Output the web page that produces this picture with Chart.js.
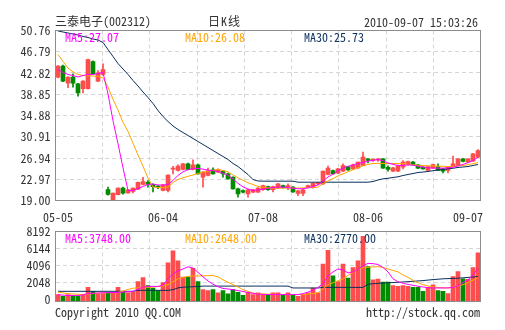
<!DOCTYPE html>
<html>
<head>
<meta charset="utf-8">
<script src="https://cdn.jsdelivr.net/npm/chart.js@4.4.0/dist/chart.umd.min.js"></script>
<style>
  body { margin: 0; background: #fff; }
  #wrap { position: relative; width: 505px; height: 330px; overflow: hidden; }
  canvas { position: absolute; left: 0; }
  .t {
    position: absolute; white-space: pre; color: #333;
    font: 12px/12px "Noto Sans Mono CJK SC", "DejaVu Sans Mono", monospace;
  }
</style>
</head>
<body>
<div id="wrap">
  <canvas id="kline" width="505" height="240" style="top:0"></canvas>
  <canvas id="vol" width="505" height="110" style="top:210px"></canvas>

  <div class="t" style="left:55px;top:15px">三泰电子(002312)</div>
  <div class="t" style="left:208px;top:15px;letter-spacing:1px">日K线</div>
  <div class="t" style="right:27px;top:16px">2010-09-07 15:03:26</div>

  <div class="t" style="left:65px;top:31px;color:#ff00ff">MA5:27.07</div>
  <div class="t" style="left:185px;top:31px;color:#ffa500">MA10:26.08</div>
  <div class="t" style="left:304px;top:31px;color:#0a2f5c">MA30:25.73</div>

  <div class="t" style="left:65px;top:232px;color:#ff00ff">MA5:3748.00</div>
  <div class="t" style="left:185px;top:232px;color:#ffa500">MA10:2648.00</div>
  <div class="t" style="left:304px;top:232px;color:#0a2f5c">MA30:2770.00</div>

  <div class="t" style="left:55px;top:306px">Copyright 2010 QQ.COM</div>
  <div class="t" style="right:25px;top:306px">http://stock.qq.com</div>
</div>

<script>
// 三泰电子 (002312) daily K line, 2010-05-05 .. 2010-09-07

const open = [42.04, 44.09, 40.91, 42.04, 40.80, 39.87, 39.87, 44.97, 41.29, 42.54,
  21.06, 19.05, 20.10, 21.30, 20.40, 20.68, 21.10, 21.99, 22.42, 22.00,
  21.70, 20.87, 20.87, 24.85, 24.60, 24.79, 25.86, 24.79, 25.67, 23.36,
  23.67, 24.73, 24.29, 24.48, 23.98, 23.36, 21.18, 20.87, 20.25, 20.55,
  20.55, 21.00, 21.60, 21.00, 21.30, 21.80, 21.60, 21.50, 20.30, 20.30,
  21.50, 21.40, 22.10, 22.12, 23.86, 24.61, 24.11, 24.48, 25.35, 24.92,
  25.10, 25.54, 26.79, 26.50, 26.60, 26.79, 25.20, 24.48, 24.48, 25.23,
  25.73, 26.16, 25.66, 25.23, 24.61, 25.10, 25.35, 24.92, 24.61, 25.35,
  25.54, 26.79, 26.16, 26.35, 27.10];

const high = [44.20, 44.30, 42.10, 42.67, 40.90, 41.40, 45.40, 45.10, 43.29, 44.54,
  21.49, 20.40, 21.35, 21.50, 21.10, 21.35, 22.45, 23.35, 22.70, 22.10,
  21.80, 22.00, 23.80, 25.40, 25.67, 25.95, 26.00, 26.60, 25.80, 24.40,
  25.04, 25.10, 24.90, 24.60, 24.10, 23.40, 21.30, 21.00, 21.10, 21.10,
  21.40, 21.90, 21.70, 21.70, 22.20, 21.90, 22.10, 21.60, 20.90, 21.10,
  21.90, 22.30, 22.40, 24.50, 25.42, 24.70, 25.00, 25.85, 25.40, 25.80,
  26.20, 28.03, 26.85, 26.80, 26.90, 26.85, 25.50, 25.20, 25.60, 26.47,
  26.35, 26.30, 25.70, 25.30, 25.40, 25.80, 25.85, 25.00, 25.30, 27.28,
  26.85, 26.85, 26.85, 27.80, 28.50];

const low = [41.90, 41.20, 40.06, 40.17, 38.49, 39.12, 39.80, 42.60, 41.20, 42.40,
  20.00, 19.00, 20.05, 20.20, 20.30, 20.40, 21.00, 21.90, 21.50, 20.60,
  21.20, 20.80, 20.60, 23.98, 24.50, 24.70, 24.70, 24.70, 23.90, 21.49,
  23.60, 23.90, 24.20, 23.36, 23.00, 21.10, 19.62, 20.40, 19.62, 20.45,
  20.50, 20.90, 20.90, 20.60, 21.20, 21.30, 21.00, 20.50, 19.90, 19.90,
  21.40, 21.30, 21.90, 22.00, 23.80, 23.90, 24.00, 24.40, 24.60, 24.80,
  25.00, 25.50, 26.00, 26.30, 26.30, 25.00, 24.50, 24.40, 24.40, 24.90,
  25.60, 25.60, 24.95, 24.85, 24.50, 25.00, 24.55, 24.17, 24.17, 25.30,
  25.50, 26.20, 26.10, 26.30, 27.00];

const close = [44.09, 41.29, 42.04, 40.91, 39.12, 41.29, 45.34, 42.67, 42.86, 43.47,
  20.12, 20.37, 21.30, 20.35, 21.00, 21.30, 22.40, 22.55, 21.99, 21.60,
  21.50, 21.93, 23.77, 24.95, 25.41, 25.86, 24.79, 25.67, 23.98, 24.29,
  24.60, 23.98, 24.79, 23.98, 23.05, 21.18, 20.25, 20.55, 20.99, 20.99,
  21.30, 21.80, 21.00, 21.60, 22.10, 21.40, 21.80, 20.60, 20.80, 21.00,
  21.80, 22.20, 22.25, 24.48, 25.04, 23.98, 24.92, 25.54, 24.73, 25.66,
  26.16, 27.10, 26.47, 26.70, 26.80, 25.04, 24.80, 25.10, 25.54, 26.16,
  26.29, 25.66, 25.04, 24.92, 25.35, 25.73, 24.61, 24.48, 25.23, 25.85,
  26.79, 26.29, 26.79, 27.72, 28.34];

const ma5 = [43.47, 42.91, 42.54, 42.35, 42.07, 42.35, 42.54, 42.54, 42.73, 42.90,
  38.90, 33.90, 29.60, 25.10, 20.87, 20.87, 21.24, 21.62, 21.99, 22.08,
  21.90, 21.88, 21.99, 22.74, 23.70, 24.35, 24.75, 24.95, 25.00, 24.85,
  24.68, 24.55, 24.42, 24.10, 23.70, 23.02, 22.20, 21.55, 21.15, 20.90,
  20.95, 21.10, 21.30, 21.40, 21.50, 21.50, 21.40, 21.30, 21.20, 21.20,
  21.35, 21.60, 21.90, 22.60, 23.40, 23.90, 24.60, 25.00, 25.40, 25.60,
  25.90, 26.10, 26.35, 26.50, 26.65, 26.45, 26.00, 25.75, 25.55, 25.55,
  25.65, 25.60, 25.40, 25.25, 25.10, 25.05, 25.04, 25.05, 25.10, 25.20,
  25.45, 25.75, 26.05, 26.50, 27.07];

const ma10 = [46.28, 44.97, 43.75, 43.01, 42.54, 42.35, 42.30, 42.24, 42.18, 41.89,
  40.20, 37.90, 35.90, 33.60, 31.90, 29.70, 27.50, 25.40, 23.20, 21.50,
  21.43, 21.43, 21.52, 22.36, 22.92, 23.24, 23.52, 23.76, 24.04, 24.31,
  24.49, 24.64, 24.79, 24.60, 24.36, 23.76, 23.24, 22.77, 22.31, 21.99,
  21.62, 21.47, 21.37, 21.32, 21.32, 21.32, 21.32, 21.32, 21.32, 21.35,
  21.40, 21.43, 21.49, 22.18, 22.64, 23.11, 23.58, 23.99, 24.36, 24.74,
  25.11, 25.49, 25.73, 25.92, 25.92, 25.92, 25.92, 25.92, 25.92, 25.88,
  25.77, 25.67, 25.58, 25.52, 25.49, 25.45, 25.41, 25.39, 25.35, 25.37,
  25.47, 25.54, 25.69, 25.88, 26.08];

const ma30 = [50.67, 50.48, 50.29, 50.11, 49.92, 49.64, 49.45, 49.17, 48.99, 48.52,
  47.21, 45.90, 44.59, 43.57, 42.54, 41.42, 40.39, 39.27, 38.24, 37.12,
  35.81, 34.69, 33.76, 32.92, 32.27, 31.70, 31.14, 30.58, 30.02, 29.46,
  28.90, 28.34, 27.78, 27.22, 26.66, 25.91, 25.35, 24.60, 23.86, 22.92,
  22.64, 22.61, 22.61, 22.61, 22.61, 22.61, 22.61, 22.61, 22.42, 22.42,
  22.42, 22.42, 22.42, 22.42, 22.42, 22.42, 22.42, 22.42, 22.42, 22.42,
  22.42, 22.42, 22.42, 22.55, 22.83, 23.05, 23.15, 23.30, 23.43, 23.67,
  23.86, 24.04, 24.23, 24.32, 24.42, 24.57, 24.70, 24.79, 24.92, 25.02,
  25.17, 25.26, 25.35, 25.54, 25.73];

const volume = [594, 392, 594, 475, 392, 594, 1460, 985, 677, 712,
  795, 867, 1460, 867, 795, 867, 2172, 2647, 1662, 1389,
  1068, 2050, 4428, 5852, 4665, 2695, 2695, 3763, 2172, 1187,
  1068, 1187, 795, 1068, 677, 1187, 867, 510, 867, 594,
  795, 594, 510, 795, 795, 594, 795, 594, 392, 594,
  795, 1389, 795, 4273, 5935, 2849, 2172, 4273, 2576, 3834,
  4665, 7597, 3953, 2374, 2457, 2101, 2101, 1662, 1579, 1662,
  1579, 1460, 1460, 985, 1460, 1780, 1068, 985, 712, 2766,
  3359, 2493, 2433, 3834, 5615];

const volMa5 = [570, 522, 475, 475, 475, 558, 712, 748, 783, 807,
  831, 843, 855, 890, 938, 985, 1246, 1472, 1579, 1579,
  1579, 1721, 2493, 3110, 3442, 3680, 3941, 3798, 3264, 2730,
  2232, 1840, 1543, 1329, 1270, 1187, 1068, 973, 843, 736,
  653, 617, 594, 594, 594, 594, 594, 594, 594, 712,
  890, 1128, 1448, 1899, 2849, 3324, 3680, 3561, 3205, 3324,
  3644, 4036, 4356, 4321, 4214, 3858, 3324, 2493, 2137, 1959,
  1816, 1709, 1602, 1507, 1424, 1389, 1389, 1389, 1401, 1448,
  1638, 2042, 2374, 2968, 3748];

const volMa10 = [890, 795, 712, 665, 629, 594, 653, 712, 772, 807,
  819, 831, 855, 1009, 1211, 1365, 1389, 1424, 1472, 1507,
  1555, 1638, 1780, 2137, 2493, 2659, 2790, 2825, 2837, 2849,
  2873, 2885, 2730, 2374, 2077, 1804, 1507, 1187, 973, 772,
  688, 665, 641, 629, 605, 594, 594, 594, 594, 594,
  653, 712, 795, 1306, 1780, 2018, 2255, 2493, 2908, 3264,
  3680, 3822, 3893, 3917, 3953, 3858, 3680, 3502, 3324, 2968,
  2659, 2315, 2018, 1780, 1626, 1519, 1448, 1401, 1389, 1484,
  1662, 1780, 2018, 2315, 2648];

const volMa30 = [985, 985, 985, 985, 985, 985, 985, 985, 985, 985,
  985, 985, 985, 985, 985, 985, 1104, 1104, 1104, 1104,
  1104, 1104, 1104, 1187, 1401, 1484, 1507, 1543, 1567, 1614,
  1614, 1614, 1614, 1614, 1614, 1614, 1614, 1614, 1614, 1614,
  1614, 1614, 1614, 1614, 1614, 1614, 1614, 1389, 1389, 1389,
  1389, 1389, 1389, 1460, 1460, 1460, 1460, 1460, 1460, 1460,
  1460, 1460, 1840, 1899, 1947, 1982, 2018, 2042, 2077, 2113,
  2148, 2196, 2232, 2279, 2338, 2398, 2445, 2493, 2516, 2540,
  2564, 2611, 2659, 2706, 2770];

// axis labels
const priceTicks = [19.00, 22.97, 26.94, 30.91, 34.88, 38.85, 42.82, 46.79, 50.76];
const volTicks = [0, 2048, 4096, 6144, 8192];
const dateTickIdx = [0, 21, 41, 62, 82];
const dateTickText = ['05-05', '06-04', '07-08', '08-06', '09-07'];

const UP = '#ff4d4d';
const DOWN = '#008c00';
const C_MA5 = '#ff00ff';
const C_MA10 = '#ffa500';
const C_MA30 = '#0a2f5c';
const GRID = '#d6d6d6';
const FONT = { family: '"Noto Sans Mono CJK SC", "DejaVu Sans Mono", monospace', size: 12 };

const idx = close.map((_, i) => i);
const candleColor = close.map((c, i) => (c >= open[i] ? UP : DOWN));

const framePlugin = {
  id: 'frame',
  afterDatasetsDraw(chart) {
    const { ctx, chartArea: a } = chart;
    ctx.save();
    ctx.strokeStyle = '#8c8c8c';
    ctx.lineWidth = 1;
    ctx.strokeRect(a.left, a.top, a.right - a.left, a.bottom - a.top);
    ctx.restore();
  },
};

function maLine(data, color) {
  return {
    type: 'line', data, borderColor: color, borderWidth: 1,
    pointRadius: 0, tension: 0, order: 0,
  };
}

// vertical dashed grid: 8 equal parts of the plot
function gridAxis() {
  return {
    type: 'linear', position: 'bottom', min: 0, max: 8,
    ticks: { display: false, stepSize: 1 },
    grid: { color: GRID, drawTicks: false },
    border: { display: false, dash: [4, 3] },
    afterFit: (s) => { s.height = 0; },
  };
}

new Chart(document.getElementById('kline'), {
  type: 'bar',
  data: {
    labels: idx,
    datasets: [
      maLine(ma5, C_MA5),
      maLine(ma10, C_MA10),
      maLine(ma30, C_MA30),
      {
        data: idx.map((i) => [Math.min(open[i], close[i]), Math.max(open[i], close[i])]),
        backgroundColor: candleColor, barThickness: 4, grouped: false,
        minBarLength: 1, order: 1,
      },
      {
        data: idx.map((i) => [low[i], high[i]]),
        backgroundColor: candleColor, barThickness: 1, grouped: false, order: 2,
      },
    ],
  },
  options: {
    responsive: false,
    animation: false,
    devicePixelRatio: 1,
    layout: { padding: { left: 0, right: 24.5, top: 30.5, bottom: 0 } },
    plugins: { legend: { display: false }, tooltip: { enabled: false } },
    scales: {
      x: {
        type: 'category', offset: true,
        grid: { display: false }, border: { display: false },
        ticks: {
          autoSkip: false, maxRotation: 0, minRotation: 0, padding: 2,
          color: '#333', font: FONT,
          callback: (v, i) => {
            const k = dateTickIdx.indexOf(i);
            return k >= 0 ? dateTickText[k] : '';
          },
        },
        afterFit: (s) => { s.height = 39.5; },
      },
      xg: gridAxis(),
      y: {
        min: 19, max: 50.76,
        afterBuildTicks: (s) => { s.ticks = priceTicks.map((v) => ({ value: v })); },
        ticks: { color: '#333', font: FONT, padding: 5, autoSkip: false, callback: (v) => v.toFixed(2) },
        grid: { color: GRID, drawTicks: false },
        border: { display: false, dash: [4, 3] },
        afterFit: (s) => { s.width = 55.5; },
      },
    },
  },
  plugins: [framePlugin],
});

new Chart(document.getElementById('vol'), {
  type: 'bar',
  data: {
    labels: idx,
    datasets: [
      maLine(volMa5, C_MA5),
      maLine(volMa10, C_MA10),
      maLine(volMa30, C_MA30),
      {
        data: volume, backgroundColor: candleColor, barThickness: 4,
        grouped: false, base: -241, order: 1,
      },
    ],
  },
  options: {
    responsive: false,
    animation: false,
    devicePixelRatio: 1,
    layout: { padding: { left: 0, right: 24.5, top: 21.5, bottom: 18.5 } },
    plugins: { legend: { display: false }, tooltip: { enabled: false } },
    scales: {
      x: { type: 'category', offset: true, display: false },
      xg: gridAxis(),
      y: {
        min: -241, max: 8192,
        afterBuildTicks: (s) => { s.ticks = volTicks.map((v) => ({ value: v })); },
        ticks: { color: '#333', font: FONT, padding: 5, autoSkip: false, callback: (v) => String(v) },
        grid: { color: GRID, drawTicks: false },
        border: { display: false, dash: [4, 3] },
        afterFit: (s) => { s.width = 55.5; },
      },
    },
  },
  plugins: [framePlugin],
});
</script>
</body>
</html>
